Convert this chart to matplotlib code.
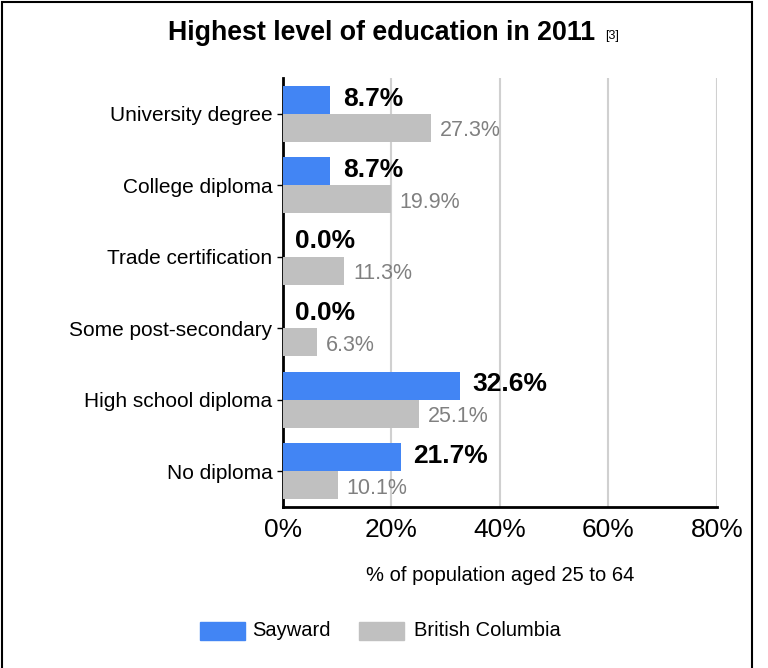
import matplotlib.pyplot as plt
import numpy as np
from matplotlib.patches import Rectangle

categories = ['University degree', 'College diploma', 'Trade certification',
              'Some post-secondary', 'High school diploma', 'No diploma']
sayward = [8.7, 8.7, 0.0, 0.0, 32.6, 21.7]
bc = [27.3, 19.9, 11.3, 6.3, 25.1, 10.1]

plt.rcParams['font.family'] = ['Liberation Sans', 'DejaVu Sans']
fig = plt.figure(figsize=(7.68, 6.68), dpi=100)
ax = fig.add_axes([0.3685, 0.241, 0.565, 0.642])

y = np.arange(len(categories))
h = 0.39
ax.barh(y - h / 2, sayward, height=h, color='#4285f4', zorder=3)
ax.barh(y + h / 2, bc, height=h, color='#c0c0c0', zorder=3)
for i in range(len(categories)):
    ax.text(sayward[i] + 2.3, y[i] - h / 2 - 0.02, f'{sayward[i]:.1f}%', va='center',
            fontsize=19, fontweight='bold', color='black')
    ax.text(bc[i] + 1.6, y[i] + h / 2 + 0.04, f'{bc[i]:.1f}%', va='center',
            fontsize=15.5, color='#808080')

ax.set_xlim(0, 80)
ax.set_ylim(len(categories) - 0.5, -0.5)
ax.set_yticks(y)
ax.set_yticklabels(categories, fontsize=15)
ax.set_xticks([0, 20, 40, 60, 80])
ax.set_xticklabels(['0%', '20%', '40%', '60%', '80%'], fontsize=19)
ax.tick_params(axis='x', length=0, pad=8)
ax.tick_params(axis='y', length=4, width=1)
ax.grid(axis='x', color='#d0d0d0', linewidth=1.5, zorder=0)
for s in ['top', 'right']:
    ax.spines[s].set_visible(False)
ax.spines['left'].set_linewidth(2)
ax.spines['bottom'].set_linewidth(2)
ax.set_xlabel('% of population aged 25 to 64', fontsize=14.5, labelpad=17)

fig.text(168 / 768, 1 - 33 / 668, 'Highest level of education in 2011', ha='left', va='center',
         fontsize=19.3, fontweight='bold')
fig.text(612 / 768, 1 - 36 / 668, '[3]', ha='center', va='center', fontsize=9)

fig.patches.append(Rectangle((200 / 768, 1 - 640 / 668), 45 / 768, 18 / 668,
                             transform=fig.transFigure, color='#4285f4'))
fig.text(252 / 768, 1 - 631 / 668, 'Sayward', va='center', fontsize=14.5)
fig.patches.append(Rectangle((359 / 768, 1 - 640 / 668), 45 / 768, 18 / 668,
                             transform=fig.transFigure, color='#c0c0c0'))
fig.text(414 / 768, 1 - 631 / 668, 'British Columbia', va='center', fontsize=14.5)

fig.patches.append(Rectangle((2 / 768, -0.01), 750 / 768, 1 - 2 / 668 + 0.01,
                             transform=fig.transFigure, fill=False,
                             edgecolor='black', linewidth=1.5))

fig.savefig('out.png', dpi=100)
